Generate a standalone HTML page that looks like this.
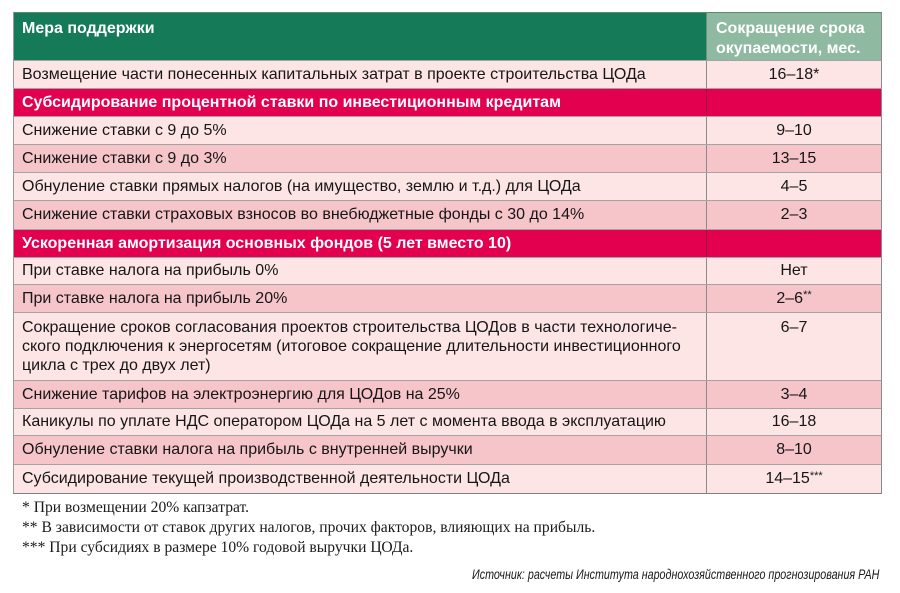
<!DOCTYPE html>
<html>
<head>
<meta charset="utf-8">
<style>
html,body{margin:0;padding:0;background:#fff;}
body{width:900px;height:593px;position:relative;overflow:hidden;font-family:"Liberation Sans","Noto Sans CJK JP",sans-serif;color:#161616;}
.row{position:absolute;left:13px;width:869px;border-left:1px solid #9a9a9a;border-right:1px solid #8a8a8a;border-top:1px solid #a3a3a3;box-sizing:border-box;}
.l{position:absolute;left:0;top:0;bottom:0;width:692px;padding-left:8px;font-size:16px;white-space:nowrap;box-sizing:border-box;}
.r{position:absolute;left:692px;top:0;bottom:0;right:0;border-left:1px solid #8a8a8a;text-align:center;font-size:16px;box-sizing:border-box;}
.lt{background:#fde4e5;}
.dk{background:#f6c5c9;}
.red{background:#e2004f;color:#fff;font-weight:bold;}
.red .r{border-left:1px solid #a0103d;}
sup{font-size:11px;vertical-align:top;position:relative;top:-3px;}
.fn{position:absolute;left:22px;font-family:"Liberation Serif","Noto Serif CJK SC",serif;font-size:15.6px;line-height:20px;color:#1a1a1a;white-space:nowrap;}
.src{position:absolute;right:21px;top:566px;font-style:italic;font-size:13.5px;line-height:18px;white-space:nowrap;transform:scaleX(0.795);transform-origin:right center;color:#1a1a1a;}
</style>
</head>
<body>

<div class="row" style="top:12px;height:48px;border-top:1px solid #5a8a70;">
  <div class="l" style="background:#157a57;color:#fff;font-weight:bold;line-height:20px;padding-top:6px;">Мера поддержки</div>
  <div class="r" style="background:#8fb9a1;color:#fff;font-weight:bold;text-align:left;padding-left:9px;line-height:20px;padding-top:6px;border-left:1px solid #6f8f7d;">Сокращение срока<br>окупаемости, мес.</div>
</div>

<div class="row lt" style="top:60px;height:28px;"><div class="l" style="line-height:27px;">Возмещение части понесенных капитальных затрат в проекте строительства ЦОДа</div><div class="r" style="line-height:27px;">16–18*</div></div>

<div class="row red" style="top:88px;height:28px;"><div class="l" style="line-height:27px;">Субсидирование процентной ставки по инвестиционным кредитам</div><div class="r"></div></div>

<div class="row lt" style="top:116px;height:28px;"><div class="l" style="line-height:27px;">Снижение ставки с 9 до 5%</div><div class="r" style="line-height:27px;">9–10</div></div>

<div class="row dk" style="top:144px;height:28px;"><div class="l" style="line-height:27px;">Снижение ставки с 9 до 3%</div><div class="r" style="line-height:27px;">13–15</div></div>

<div class="row lt" style="top:172px;height:28px;"><div class="l" style="line-height:27px;">Обнуление ставки прямых налогов (на имущество, землю и т.д.) для ЦОДа</div><div class="r" style="line-height:27px;">4–5</div></div>

<div class="row dk" style="top:200px;height:29px;"><div class="l" style="line-height:28px;">Снижение ставки страховых взносов во внебюджетные фонды с 30 до 14%</div><div class="r" style="line-height:28px;">2–3</div></div>

<div class="row red" style="top:229px;height:28px;"><div class="l" style="line-height:27px;">Ускоренная амортизация основных фондов (5 лет вместо 10)</div><div class="r"></div></div>

<div class="row lt" style="top:257px;height:27px;"><div class="l" style="line-height:26px;">При ставке налога на прибыль 0%</div><div class="r" style="line-height:26px;">Нет</div></div>

<div class="row dk" style="top:284px;height:28px;"><div class="l" style="line-height:27px;">При ставке налога на прибыль 20%</div><div class="r" style="line-height:27px;">2–6<sup>**</sup></div></div>

<div class="row lt" style="top:312px;height:68px;"><div class="l" style="line-height:19px;padding-top:5px;">Сокращение сроков согласования проектов строительства ЦОДов в части технологиче-<br>ского подключения к энергосетям (итоговое сокращение длительности инвестиционного<br>цикла с трех до двух лет)</div><div class="r" style="line-height:19px;padding-top:5px;">6–7</div></div>

<div class="row dk" style="top:380px;height:28px;"><div class="l" style="line-height:27px;">Снижение тарифов на электроэнергию для ЦОДов на 25%</div><div class="r" style="line-height:27px;">3–4</div></div>

<div class="row lt" style="top:408px;height:27px;"><div class="l" style="line-height:26px;">Каникулы по уплате НДС оператором ЦОДа на 5 лет с момента ввода в эксплуатацию</div><div class="r" style="line-height:26px;">16–18</div></div>

<div class="row dk" style="top:435px;height:29px;"><div class="l" style="line-height:28px;">Обнуление ставки налога на прибыль с внутренней выручки</div><div class="r" style="line-height:28px;">8–10</div></div>

<div class="row lt" style="top:464px;height:30px;border-bottom:1px solid #808080;"><div class="l" style="line-height:28px;">Субсидирование текущей производственной деятельности ЦОДа</div><div class="r" style="line-height:28px;">14–15<sup>***</sup></div></div>

<div class="fn" style="top:498px;">* При возмещении 20% капзатрат.</div>
<div class="fn" style="top:518px;">** В зависимости от ставок других налогов, прочих факторов, влияющих на прибыль.</div>
<div class="fn" style="top:538px;">*** При субсидиях в размере 10% годовой выручки ЦОДа.</div>

<div class="src">Источник: расчеты Института народнохозяйственного прогнозирования РАН</div>

</body>
</html>
